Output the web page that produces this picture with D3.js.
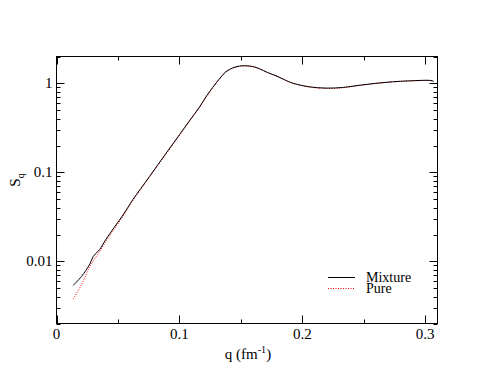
<!DOCTYPE html>
<html>
<head>
<meta charset="utf-8">
<script src="https://cdn.jsdelivr.net/npm/d3@7"></script>
<style>
  body { margin: 0; background: #fff; }
</style>
</head>
<body>
<svg id="chart"></svg>
<script>
// values
var qMix = [0.0135, 0.0203, 0.0271, 0.0298, 0.035, 0.0404, 0.0542, 0.062, 0.0756, 0.0892, 0.1, 0.1085, 0.1163, 0.1215, 0.1271, 0.1325, 0.1379, 0.1434, 0.1488, 0.1528, 0.1596, 0.165, 0.1718, 0.1786, 0.1853, 0.1921, 0.2057, 0.2193, 0.2328, 0.2463, 0.2599, 0.2734, 0.287, 0.3046, 0.307];
var sMix = [0.00535, 0.00675, 0.0093, 0.0113, 0.0135, 0.0178, 0.0333, 0.049, 0.0895, 0.164, 0.264, 0.385, 0.54, 0.70, 0.90, 1.12, 1.35, 1.49, 1.56, 1.575, 1.545, 1.46, 1.32, 1.214, 1.10, 1.005, 0.913, 0.883, 0.897, 0.95, 1.0, 1.04, 1.065, 1.075, 1.05];
var qPure = [0.0135, 0.0203, 0.0271, 0.035, 0.0404, 0.0542, 0.062, 0.0756, 0.0892, 0.1, 0.1085, 0.1163, 0.1215, 0.1271, 0.1325, 0.1379, 0.1434, 0.1488, 0.1528, 0.1596, 0.165, 0.1718, 0.1786, 0.1853, 0.1921, 0.2057, 0.2193, 0.2328, 0.2463, 0.2599, 0.2734, 0.287, 0.3046, 0.307];
var sPure = [0.00376, 0.00544, 0.00874, 0.0128, 0.0169, 0.0322, 0.0478, 0.0878, 0.161, 0.259, 0.378, 0.532, 0.69, 0.89, 1.11, 1.34, 1.48, 1.55, 1.568, 1.54, 1.455, 1.315, 1.21, 1.095, 1.0, 0.907, 0.876, 0.89, 0.944, 0.995, 1.035, 1.06, 1.07, 1.045];
var xTicks = [0, 0.1, 0.2, 0.3];
var xMinor = [0.05, 0.15, 0.25];
var yTicks = [0.01, 0.1, 1];
var yTickLabels = ["0.01", "0.1", "1"];

var FONT = "'Liberation Serif', 'Times New Roman', Times, 'DejaVu Serif', serif";

var W = 493, H = 381;
var margin = {top: 56.5, right: 55.5, bottom: 57.5, left: 56.5};
var w = W - margin.left - margin.right;
var h = H - margin.top - margin.bottom;

var svg = d3.select("#chart").attr("width", W).attr("height", H);

var x = d3.scaleLinear().domain([0, 0.31]).range([margin.left, margin.left + w]);
var y = d3.scaleLog().domain([0.002, 2]).range([margin.top + h, margin.top]);

// minor ticks for the log axis
var yMinor = [];
[0.001, 0.01, 0.1, 1].forEach(function(d) {
    for (var k = 2; k <= 9; k++) {
        var v = d * k;
        if (v >= 0.002 && v <= 2) yMinor.push(v);
    }
});

var g = svg.append("g");

function tickLines(vals, len) {
    vals.forEach(function(v) {
        var xx = Math.round(x(v)) + 0.5;
        g.append("line").attr("x1", xx).attr("x2", xx).attr("y1", margin.top + h).attr("y2", margin.top + h - len).attr("stroke", "#000");
        g.append("line").attr("x1", xx).attr("x2", xx).attr("y1", margin.top).attr("y2", margin.top + len).attr("stroke", "#000");
    });
}
function yTickLines(vals, len) {
    vals.forEach(function(v) {
        var yy = Math.round(y(v)) + 0.5;
        g.append("line").attr("x1", margin.left).attr("x2", margin.left + len).attr("y1", yy).attr("y2", yy).attr("stroke", "#000");
        g.append("line").attr("x1", margin.left + w).attr("x2", margin.left + w - len).attr("y1", yy).attr("y2", yy).attr("stroke", "#000");
    });
}
tickLines(xTicks, 8);
tickLines(xMinor, 4);
yTickLines(yTicks, 8);
yTickLines(yMinor, 4);

// frame
g.append("rect")
    .attr("x", margin.left).attr("y", margin.top)
    .attr("width", w).attr("height", h)
    .attr("fill", "none").attr("stroke", "#000");

// tick labels
svg.selectAll(".xl").data(xTicks).enter().append("text")
    .style("font-family", FONT)
    .attr("x", function(d) { return x(d); })
    .attr("y", margin.top + h + 15)
    .attr("text-anchor", "middle")
    .attr("font-size", 15)
    .text(function(d) { return d3.format("~g")(d); });

svg.selectAll(".yl").data(yTicks).enter().append("text")
    .style("font-family", FONT)
    .attr("x", margin.left - 4)
    .attr("y", function(d) { return y(d) + 5; })
    .attr("text-anchor", "end")
    .attr("font-size", 15)
    .text(function(d, i) { return yTickLabels[i]; });

// axis titles
var xt = svg.append("text")
    .style("font-family", FONT)
    .attr("x", 248)
    .attr("y", 359)
    .attr("text-anchor", "middle")
    .attr("font-size", 15);
xt.append("tspan").text("q (fm");
xt.append("tspan").attr("dy", -6).attr("font-size", 10).text("-1");
xt.append("tspan").attr("dy", 6).text(")");

var yt = svg.append("text")
    .style("font-family", FONT)
    .attr("transform", "translate(20,180) rotate(-90)")
    .attr("text-anchor", "middle")
    .attr("font-size", 15);
yt.append("tspan").text("S");
yt.append("tspan").attr("dy", 4).attr("font-size", 10).text("q");

// curves
var mix = qMix.map(function(d, i) { return [d, sMix[i]]; });
var pure = qPure.map(function(d, i) { return [d, sPure[i]]; });
var line = d3.line()
    .x(function(d) { return x(d[0]); })
    .y(function(d) { return y(d[1]); })
    .curve(d3.curveCatmullRom.alpha(0.5));

svg.append("path").datum(pure)
    .attr("d", line)
    .attr("fill", "none")
    .attr("stroke", "#ff0000")
    .attr("stroke-width", 1)
    .attr("stroke-dasharray", "1,1.5");

svg.append("path").datum(mix)
    .attr("d", line)
    .attr("fill", "none")
    .attr("stroke", "#000")
    .attr("stroke-width", 1);

// legend
var lg = svg.append("g");
lg.append("line").attr("x1", 328).attr("x2", 355).attr("y1", 277.5).attr("y2", 277.5).attr("stroke", "#000");
lg.append("line").attr("x1", 328).attr("x2", 355).attr("y1", 288.5).attr("y2", 288.5)
    .attr("stroke", "#ff0000").attr("stroke-dasharray", "1,1.5");
lg.append("text").style("font-family", FONT).attr("x", 366).attr("y", 281.5).attr("font-size", 14).text("Mixture");
lg.append("text").style("font-family", FONT).attr("x", 366).attr("y", 293).attr("font-size", 14).text("Pure");
</script>
</body>
</html>
